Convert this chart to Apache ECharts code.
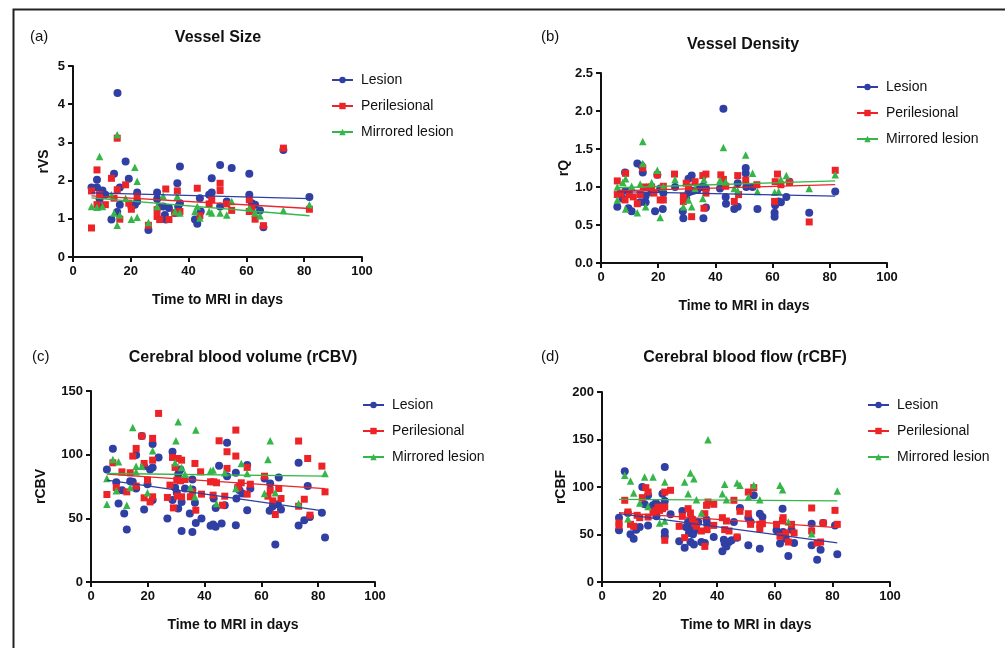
<!DOCTYPE html>
<html>
<head>
<meta charset="utf-8">
<script src="https://cdn.jsdelivr.net/npm/echarts@6/dist/echarts.min.js"></script>
<style>
html,body{margin:0;padding:0;background:#fff;}
#chart{width:1005px;height:648px;}
</style>
</head>
<body>
<div id="chart"></div>
<script>
// ---------- DATA ----------
const seriesNames = ['Lesion', 'Perilesional', 'Mirrored lesion'];
const xTicks = [0, 20, 40, 60, 80, 100];
const panelTitles = ['Vessel Size', 'Vessel Density', 'Cerebral blood volume (rCBV)', 'Cerebral blood flow (rCBF)'];
const panelLetters = ['(a)', '(b)', '(c)', '(d)'];
const yNames = ['rVS', 'rQ', 'rCBV', 'rCBF'];
const xName = 'Time to MRI in days';
const yMax = [5, 2.5, 150, 200];
const yStep = [1, 0.5, 50, 50];

// (a) Vessel size
const vsLesion = [[6.4,1.82],[8.3,2.02],[8.3,1.82],[10.2,1.74],[9.2,1.52],[9,1.32],[11.2,1.63],[13.3,0.98],[14.2,2.18],[15.4,4.29],[15.3,1.18],[16.2,1.82],[16.2,1.37],[18.2,2.5],[19.3,2.05],[20.2,1.32],[21.4,1.37],[22.2,1.69],[22.2,1.45],[26.1,0.71],[29.1,1.69],[29.1,1.52],[30,1.32],[31.2,1.32],[31.8,1.1],[32.1,0.98],[33.2,1.28],[35.3,1.15],[36.1,1.93],[36.4,1.32],[37,2.37],[37,1.41],[42.2,0.98],[43,0.87],[43.9,1.54],[44.2,1.19],[47.1,1.63],[48,2.06],[48,1.69],[50.9,2.41],[50.9,1.32],[53.2,1.45],[54.9,2.33],[61,2.18],[61,1.63],[61.9,1.41],[63,1.37],[64.7,1.22],[65.9,0.78],[72.8,2.8],[81.8,1.57]];
const vsPeri = [[6.4,0.76],[6.4,1.73],[8.3,2.28],[8.3,1.37],[9.2,1.63],[11.2,1.37],[13.3,2.06],[14.2,1.54],[15.3,3.11],[15.3,1.76],[16.2,0.99],[18.2,1.89],[19.3,1.41],[20.2,1.25],[22.2,1.59],[26.1,0.83],[29.1,1.24],[29.1,1.06],[30,0.98],[32.1,1.78],[33.2,0.98],[35.3,1.15],[36.1,1.73],[37,1.19],[43,1.8],[43.9,1.08],[47.1,1.39],[48,1.5],[50.9,1.93],[50.9,1.74],[53.2,1.39],[54.9,1.22],[61,1.5],[61,1.19],[61.9,1.25],[63,0.99],[65.9,0.82],[72.8,2.85],[81.8,1.25]];
const vsMirror = [[6.4,1.32],[8.3,1.3],[9.2,2.63],[10.2,1.32],[13.3,1.63],[14.2,1.15],[15.3,3.2],[15.3,0.83],[16.2,1.1],[18.2,1.54],[20.2,0.99],[21.4,2.35],[22.2,1.98],[22.2,1.04],[26.1,0.9],[29.1,1.32],[31.2,1.6],[35.3,1.19],[36.1,1.59],[37,1.15],[42.2,1.19],[43,1.32],[43.9,1.02],[47.1,1.19],[48,1.15],[50.9,1.15],[53.2,1.1],[54.9,1.45],[61,1.28],[63,1.15],[64.7,1.08],[72.8,1.22],[81.8,1.37]];
const vsFitLesion = [[6.4,1.68],[81.8,1.53]];
const vsFitPeri = [[6.4,1.6],[81.8,1.27]];
const vsFitMirror = [[6.4,1.55],[81.8,1.08]];

// (b) Vessel density
const vdLesion = [[5.7,0.74],[7.6,0.85],[8.4,1.19],[8.6,0.95],[9.6,0.72],[10.7,0.68],[12.7,1.31],[14.2,1.28],[14.6,1.19],[13.7,0.8],[15.6,0.8],[15.6,0.88],[17.7,0.93],[18.9,0.68],[19.7,1.16],[20.7,0.98],[21.6,0.71],[21.8,0.92],[25.9,1.0],[28.6,0.68],[28.8,0.59],[29.8,0.85],[30.6,1.11],[31.7,1.15],[30.6,0.93],[31.3,0.94],[32.3,0.95],[33.7,0.96],[35.2,1.0],[35.8,0.59],[36.7,0.73],[36,1.0],[36.7,0.98],[41.6,0.98],[42.8,2.03],[43.6,0.87],[43.7,0.78],[46.6,0.71],[47.8,0.74],[47.8,1.05],[50.6,1.25],[50.6,1.18],[50.8,1.0],[53,1.0],[54.7,0.71],[60.7,0.66],[60.7,0.61],[60.9,0.76],[62.1,0.81],[62.9,0.8],[64.8,0.87],[65.9,1.07],[72.8,0.66],[81.9,0.94]];
const vdPeri = [[5.7,1.08],[5.7,0.9],[6.9,0.92],[8.4,0.83],[8.6,1.18],[9.9,0.9],[11.3,0.87],[12.7,0.78],[13.7,0.9],[14.6,1.25],[14.8,1.0],[16,0.99],[16.9,1.0],[17.7,1.0],[18.5,0.92],[19.7,1.16],[20.7,0.83],[21.8,0.83],[21.8,1.01],[25.7,1.17],[28.8,0.81],[28.8,0.88],[29.8,1.05],[30.6,1.0],[31.7,0.61],[32.9,1.07],[35.6,1.15],[36,0.72],[36.7,1.17],[36.7,0.92],[41.9,1.16],[42.8,1.1],[43.6,1.01],[46.6,0.81],[47.8,1.15],[48.1,0.9],[50.6,1.09],[54.5,1.03],[60.7,0.81],[60.9,1.07],[61.7,1.17],[62.9,1.03],[65.9,1.06],[72.8,0.54],[81.9,1.22]];
const vdMirror = [[5.7,1.0],[5.7,0.83],[7.6,1.06],[8.6,1.11],[8.6,0.71],[10.7,1.01],[12.7,0.66],[13.7,1.04],[14.6,1.6],[14.6,1.31],[15.6,0.74],[17.7,1.06],[19.7,1.22],[20.7,0.6],[21.8,1.0],[25.9,1.1],[28.8,0.74],[30.6,0.83],[31.7,0.74],[32.9,0.98],[35.6,0.85],[36,1.1],[41.6,1.09],[42.8,1.52],[43.6,1.07],[46.6,0.98],[47.8,0.95],[50.6,1.42],[53,1.18],[54.7,0.94],[60.7,0.93],[62.1,0.94],[62.9,1.1],[64.8,1.15],[72.8,0.98],[81.9,1.16]];
const vdFitLesion = [[5.7,0.94],[81.9,0.88]];
const vdFitPeri = [[5.7,0.95],[81.9,1.03]];
const vdFitMirror = [[5.7,0.99],[81.9,1.08]];

// (c) rCBV
const cbvLesion = [[5.6,88.4],[7.7,104.6],[8.9,78.4],[9.7,61.6],[10.9,72.1],[11.7,53.8],[12.6,41.2],[13.8,79.2],[14.7,78.7],[15.9,73.4],[15.9,99.7],[17.9,114.6],[18.7,56.9],[18.7,91.0],[19.9,76.8],[20.8,88.4],[21.7,108.3],[21.7,90.0],[21.7,64.3],[23.8,97.8],[26.9,49.8],[28.7,102.3],[28.7,64.3],[29.6,74.2],[30.2,70.0],[30.7,57.7],[30.7,84.7],[31.1,87.3],[31.5,88.4],[31.9,40.1],[31.9,62.9],[33.1,73.4],[34.8,53.8],[35.7,39.3],[35.7,80.5],[35.7,72.6],[36.6,62.2],[36.9,46.4],[38.9,49.8],[42.1,44.1],[43.0,45.1],[43.2,65.6],[43.9,58.2],[43.9,43.3],[45.1,91.3],[46.0,45.9],[47.1,60.3],[47.9,109.4],[47.9,83.1],[51.0,85.8],[51.0,44.6],[51.2,65.6],[51.8,74.7],[52.3,72.1],[53.3,69.5],[55.0,91.8],[55.0,56.4],[56.1,73.4],[61.1,81.3],[62.9,55.9],[63.1,77.4],[64.0,59.5],[64.9,29.4],[65.8,61.1],[66.1,82.1],[66.9,56.9],[73.1,44.3],[73.1,93.6],[75.1,48.5],[76.3,75.3],[77.1,51.1],[81.3,54.3],[82.4,34.9]];
const cbvPeri = [[5.6,68.7],[7.7,93.6],[8.9,74.2],[10.9,86.5],[12.6,70.8],[13.8,85.8],[14.7,98.9],[15.9,104.9],[15.9,75.3],[17.9,114.6],[18.7,66.1],[18.7,93.1],[19.9,80.0],[20.8,62.9],[21.7,112.8],[21.7,95.7],[21.7,66.9],[23.8,132.4],[26.9,66.4],[27.8,76.1],[28.7,97.8],[29.0,58.2],[29.6,90.0],[30.2,80.0],[30.4,67.4],[30.7,97.0],[31.5,79.5],[31.9,95.7],[31.9,66.9],[33.1,80.5],[35.0,66.9],[35.7,70.8],[36.6,93.1],[36.9,56.4],[38.6,86.5],[38.9,69.0],[42.1,78.7],[43.0,68.2],[43.2,78.7],[44.2,77.9],[45.1,110.9],[46.3,60.3],[47.1,67.4],[47.9,102.3],[47.9,89.2],[51.0,119.3],[51.0,98.9],[51.8,74.2],[52.9,77.9],[55.0,90.0],[55.0,69.0],[56.1,76.8],[61.1,83.1],[62.3,67.4],[63.1,72.1],[64.0,63.7],[64.9,53.0],[66.1,73.4],[66.9,65.6],[73.1,110.7],[73.1,59.5],[75.1,65.0],[76.3,97.0],[77.1,52.5],[81.3,91.0],[82.4,70.8]];
const cbvMirror = [[5.6,61.1],[5.6,81.3],[7.7,96.2],[8.9,71.6],[9.7,94.4],[12.6,60.3],[13.8,74.2],[14.7,121.4],[15.9,91.0],[15.9,86.5],[17.9,91.0],[19.9,70.0],[21.7,103.1],[29.6,93.6],[29.9,110.9],[30.7,125.9],[31.9,90.0],[33.1,84.7],[35.0,74.2],[36.6,66.9],[36.9,119.3],[42.1,87.3],[43.0,87.9],[44.2,61.6],[47.1,85.8],[51.0,73.4],[52.9,93.1],[55.0,85.2],[61.1,69.5],[62.3,96.2],[63.1,110.9],[64.9,70.0],[73.1,61.6],[82.4,85.2]];
const cbvFitLesion = [[5.6,80.0],[82.4,55.6]];
const cbvFitPeri = [[5.6,84.7],[82.4,73.4]];
const cbvFitMirror = [[5.6,85.2],[82.4,83.1]];

// (d) rCBF
const cbfLesion = [[5.9,54.4],[5.9,67.7],[7.9,116.5],[9.0,72.6],[9.9,50.2],[11.0,45.6],[11.9,55.1],[13.1,57.9],[14.0,100],[14.8,81.8],[16.0,91.2],[16.0,59.6],[17.7,80.7],[18.7,83.2],[18.9,69.1],[19.5,80.7],[21.0,93.0],[21.8,121.1],[21.8,85.3],[21.8,52.6],[21.8,48.1],[23.8,71.2],[26.8,42.8],[27.9,74.7],[28.7,36.1],[29.1,57.9],[29.9,63.2],[30.2,51.6],[30.7,42.1],[31.1,66.7],[31.4,57.9],[31.6,50.2],[31.9,39.6],[32.2,58.6],[32.8,55.1],[33.4,63.2],[34.5,42.1],[35.7,41.1],[36.3,65.6],[36.5,61.4],[38.8,47.4],[41.8,32.3],[42.3,44.6],[42.6,40.4],[43.2,37.5],[44.1,42.1],[45.0,43.9],[45.8,63.2],[46.9,46.7],[47.9,77.9],[50.8,38.6],[50.8,67.7],[51.6,63.2],[52.7,91.2],[54.8,35.1],[54.8,71.9],[55.7,68.4],[60.6,54.4],[61.8,40.4],[62.7,77.2],[62.9,52.6],[63.8,45.6],[64.7,27.4],[65.8,55.1],[66.7,41.1],[72.8,61.4],[72.8,38.6],[74.7,23.5],[75.9,34.0],[76.8,62.1],[80.9,59.6],[81.7,29.1]];
const cbfPeri = [[5.9,62.1],[5.9,59.6],[7.9,86.0],[9.0,73.7],[9.9,60.7],[11.0,58.6],[12.2,70.2],[13.1,67.7],[14.0,88.8],[15.2,99.3],[16.0,94.7],[16.0,68.4],[17.7,73.7],[18.7,75.4],[19.5,78.9],[20.0,75.4],[21.0,77.2],[21.8,94.7],[21.8,78.9],[21.8,43.9],[23.8,96.5],[26.8,58.6],[27.9,69.1],[28.7,46.7],[29.9,77.2],[30.7,72.6],[31.4,65.6],[32.2,61.4],[32.8,58.6],[34.5,53.7],[35.7,71.9],[35.7,37.5],[36.3,80.7],[36.5,55.1],[36.8,84.2],[38.8,81.8],[38.8,59.6],[41.8,67.7],[42.6,55.1],[43.2,64.2],[44.1,53.7],[45.8,86.0],[46.9,47.4],[47.9,74.4],[50.8,94.7],[50.8,71.9],[51.6,60.7],[52.7,99.3],[54.8,60.7],[54.8,56.1],[55.7,61.4],[60.6,60.7],[61.8,48.1],[62.7,64.9],[62.9,67.7],[63.8,51.6],[64.7,42.1],[65.8,60.7],[66.7,51.6],[72.8,77.9],[72.8,53.7],[74.7,41.1],[75.9,42.1],[76.8,62.1],[80.9,75.4],[81.7,60.7]];
const cbfMirror = [[7.9,112.3],[9.0,66.7],[9.9,106.3],[11.0,93.7],[13.1,83.2],[14.8,110.5],[16.0,79.6],[17.7,110.5],[20.0,62.1],[21.8,105.3],[21.8,64.2],[28.7,105.3],[29.9,93.0],[30.7,114.7],[31.9,108.8],[32.8,86.7],[34.5,72.6],[36.8,149.8],[41.8,93.0],[42.6,102.8],[43.2,86.7],[46.9,104.2],[47.9,101.8],[50.8,89.5],[52.7,101.8],[54.8,86.7],[61.8,101.8],[62.7,97.2],[64.7,63.2],[72.8,50.9],[81.7,95.8]];
const cbfFitLesion = [[5.9,72.0],[81.7,41.1]];
const cbfFitPeri = [[5.9,73.0],[81.7,57.2]];
const cbfFitMirror = [[5.9,87.0],[81.7,85.3]];

// ---------- STYLE / LAYOUT ----------
const colors = ['#2f3fa3', '#ec2327', '#35b648'];
const symbols = ['circle', 'rect', 'triangle'];
const symSizes = [8, 7, 7.5];
const FONT = '"Liberation Sans", Arial, Helvetica, sans-serif';

const grids = [
  {left: 73, top: 66, width: 289, height: 191},
  {left: 601, top: 73, width: 286, height: 190},
  {left: 91, top: 391, width: 284, height: 191},
  {left: 602, top: 392, width: 288, height: 190}
];
const legendPos = [
  {left: 326, top: 68},
  {left: 851, top: 75},
  {left: 357, top: 393},
  {left: 862, top: 393}
];
const titlePos = [
  {lx: 30, tx: 218, y: 38},
  {lx: 541, tx: 743, y: 45},
  {lx: 32, tx: 243, y: 358},
  {lx: 541, tx: 745, y: 358}
];
const letterY = [38, 38, 358, 358];
const yNameGaps = [22, 24, 43, 34];

const scatterData = [
  [vsLesion, vsPeri, vsMirror],
  [vdLesion, vdPeri, vdMirror],
  [cbvLesion, cbvPeri, cbvMirror],
  [cbfLesion, cbfPeri, cbfMirror]
];
const fitData = [
  [vsFitLesion, vsFitPeri, vsFitMirror],
  [vdFitLesion, vdFitPeri, vdFitMirror],
  [cbvFitLesion, cbvFitPeri, cbvFitMirror],
  [cbfFitLesion, cbfFitPeri, cbfFitMirror]
];

const axisCommon = {
  axisLine: {show: true, onZero: false, lineStyle: {color: '#111', width: 2}},
  axisTick: {show: true, length: 5, lineStyle: {color: '#111', width: 2}},
  splitLine: {show: false},
  axisLabel: {color: '#111', fontWeight: 'bold', fontSize: 13, fontFamily: FONT, margin: 8}
};

const xAxes = [], yAxes = [], series = [], legends = [], graphics = [];

// fit lines first (their legend icon = line + marker)
for (let p = 0; p < 4; p++) {
  for (let s = 0; s < 3; s++) {
    series.push({
      type: 'line', name: seriesNames[s], xAxisIndex: p, yAxisIndex: p,
      data: fitData[p][s], symbol: symbols[s], showSymbol: false, symbolSize: 6,
      lineStyle: {color: colors[s], width: 1.3}, itemStyle: {color: colors[s]},
      z: 3, silent: true, animation: false
    });
  }
}
for (let p = 0; p < 4; p++) {
  for (let s = 0; s < 3; s++) {
    series.push({
      type: 'scatter', name: seriesNames[s], xAxisIndex: p, yAxisIndex: p,
      data: scatterData[p][s], symbol: symbols[s], symbolSize: symSizes[s],
      itemStyle: {color: colors[s], opacity: 1}, z: 2, animation: false
    });
  }
  xAxes.push(Object.assign({}, axisCommon, {
    type: 'value', gridIndex: p, min: 0, max: 100, interval: 20,
    name: xName, nameLocation: 'middle', nameGap: 36,
    nameTextStyle: {color: '#111', fontWeight: 'bold', fontSize: 14, fontFamily: FONT}
  }));
  yAxes.push(Object.assign({}, axisCommon, {
    type: 'value', gridIndex: p, min: 0, max: yMax[p], interval: yStep[p],
    name: yNames[p], nameLocation: 'middle', nameGap: yNameGaps[p],
    nameTextStyle: {color: '#111', fontWeight: 'bold', fontSize: 14, fontFamily: FONT},
    axisLabel: Object.assign({}, axisCommon.axisLabel, p === 1 ? {formatter: v => v.toFixed(1)} : {})
  }));
  legends.push({
    left: legendPos[p].left, top: legendPos[p].top, orient: 'vertical',
    data: seriesNames, itemWidth: 21, itemHeight: 8, itemGap: 12,
    selectedMode: false,
    textStyle: {color: '#111', fontSize: 14, fontFamily: FONT, padding: [0, 0, 0, 3]}
  });
  graphics.push({
    type: 'text', left: titlePos[p].lx, top: letterY[p] - 9,
    style: {text: panelLetters[p], fill: '#111', font: '15px ' + FONT}
  });
  graphics.push({
    type: 'text', x: titlePos[p].tx, y: titlePos[p].y,
    style: {text: panelTitles[p], fill: '#111', font: 'bold 16px ' + FONT, textAlign: 'center', textVerticalAlign: 'middle'}
  });
}
graphics.push({
  type: 'rect', left: 11, top: 7, z: -1,
  shape: {x: 0, y: 0, width: 1100, height: 700},
  style: {fill: 'none', stroke: '#222', lineWidth: 2}
});

const chart = echarts.init(document.getElementById('chart'), null, {renderer: 'canvas'});
chart.setOption({
  animation: false,
  backgroundColor: '#fff',
  grid: grids,
  xAxis: xAxes,
  yAxis: yAxes,
  legend: legends,
  series: series,
  graphic: graphics
});
</script>
</body>
</html>
